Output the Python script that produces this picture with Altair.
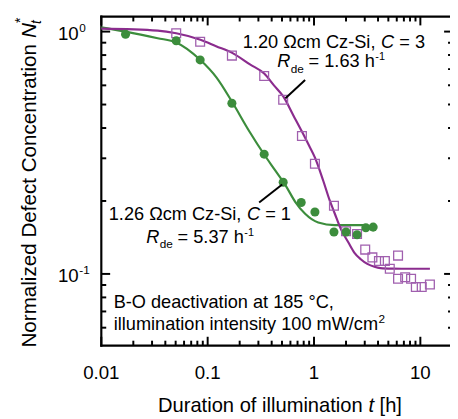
import altair as alt
import pandas as pd

# ---------------- data ----------------
green_t = [0.0169, 0.0506, 0.085, 0.169, 0.34, 0.513, 0.758, 1.02, 1.54, 2.0, 2.54, 3.07, 3.6]
green_n = [0.975, 0.917, 0.764, 0.506, 0.312, 0.239, 0.197, 0.18, 0.149, 0.149, 0.145, 0.155, 0.156]

purple_t = [0.0506, 0.085, 0.169, 0.34, 0.513, 0.77, 1.02, 1.54, 2.0, 2.54, 3.03, 3.54, 4.08,
            4.64, 5.16, 6.17, 6.17, 7.2, 8.18, 9.07, 10.3, 12.3]
purple_n = [0.984, 0.908, 0.796, 0.656, 0.523, 0.371, 0.285, 0.191, 0.15, 0.146, 0.126, 0.117, 0.113,
            0.113, 0.105, 0.119, 0.0955, 0.0968, 0.0955, 0.0883, 0.0883, 0.0905]

green_fit_t = [0.01, 0.0169, 0.0339, 0.0506, 0.0855, 0.1208, 0.17, 0.247, 0.34, 0.43, 0.54,
               0.668, 0.825, 1.096, 1.563, 2.2, 3.1]
green_fit_n = [1.041, 1.0, 0.939, 0.902, 0.763, 0.647, 0.512, 0.387, 0.311, 0.268, 0.232,
               0.198, 0.177, 0.163, 0.159, 0.159, 0.159]

purple_fit_t = [0.01, 0.0339, 0.0506, 0.0855, 0.12, 0.17, 0.25, 0.34, 0.42, 0.514, 0.64, 0.77,
                0.9, 1.021, 1.219, 1.405, 1.563, 1.803, 2.1, 2.391, 2.75, 3.172, 3.7, 4.219,
                5.5, 8.0, 12.3]
purple_fit_n = [1.028, 1.009, 0.984, 0.925, 0.87, 0.817, 0.732, 0.671, 0.6, 0.54, 0.451, 0.387,
                0.338, 0.302, 0.243, 0.201, 0.178, 0.152, 0.135, 0.1225, 0.115, 0.11, 0.107,
                0.1057, 0.1052, 0.105, 0.105]

x_major = [0.01, 0.1, 1, 10]
x_minor = [0.02, 0.03, 0.04, 0.05, 0.06, 0.07, 0.08, 0.09,
           0.2, 0.3, 0.4, 0.5, 0.6, 0.7, 0.8, 0.9,
           2, 3, 4, 5, 6, 7, 8, 9]
x_labels = ["0.01", "0.1", "1", "10"]
y_major = [1, 0.1]
y_minor = [0.06, 0.07, 0.08, 0.09, 0.2, 0.3, 0.4, 0.5, 0.6, 0.7, 0.8, 0.9]
y_label_base = ["10", "10"]
y_label_exp = ["0", "-1"]

# pointer lines (label -> curve)
ptr_x = [0.539, 0.305]
ptr_y = [0.531, 0.197]
ptr_x2 = [0.825, 0.502]
ptr_y2 = [0.631, 0.234]

# annotation anchors (data coordinates)
purple_l1 = (0.214, 0.852)
purple_l2 = (0.4523, 0.713)
green_l1 = (0.01175, 0.167)
green_l2 = (0.02653, 0.1344)
cond_l1 = (0.01307, 0.0721)
cond_l2 = (0.01307, 0.0589)

GREEN = "#3c8d3c"
PURPLE = "#8b2c8e"
SQUARE = "#a05fae"
FONT = "Liberation Sans"
W, H = 355, 335
RIGHT = 358  # frame right edge lies just outside the picture

xs = alt.Scale(type="log", domain=[0.01, 19], nice=False)
ys = alt.Scale(type="log", domain=[0.0506, 1.1535], nice=False)


def X(f):
    return alt.X(f, type="quantitative", scale=xs, axis=None)


def Y(f):
    return alt.Y(f, type="quantitative", scale=ys, axis=None)


one = pd.DataFrame({"a": [0]})
layers = []

# frame (left, top, bottom)
frame = dict(color="black", strokeWidth=2.2, strokeCap="square")
layers.append(alt.Chart(one).mark_rule(**frame).encode(x=alt.value(0), y=alt.value(0), y2=alt.value(H)))
layers.append(alt.Chart(one).mark_rule(**frame).encode(x=alt.value(0), x2=alt.value(RIGHT), y=alt.value(0)))
layers.append(alt.Chart(one).mark_rule(**frame).encode(x=alt.value(0), x2=alt.value(RIGHT), y=alt.value(H)))

# ticks (pointing inward)
dfxM = pd.DataFrame({"v": x_major})
dfxm = pd.DataFrame({"v": x_minor})
dfyM = pd.DataFrame({"v": y_major})
dfym = pd.DataFrame({"v": y_minor})
tick = dict(color="black", strokeWidth=2, opacity=1)
for df, ln in ((dfxM, 9), (dfxm, 5)):
    layers.append(alt.Chart(df).mark_rule(**tick).encode(x=X("v"), y=alt.value(H), y2=alt.value(H - ln)))
    layers.append(alt.Chart(df).mark_rule(**tick).encode(x=X("v"), y=alt.value(0), y2=alt.value(ln)))
for df, ln in ((dfyM, 9), (dfym, 5)):
    layers.append(alt.Chart(df).mark_rule(**tick).encode(y=Y("v"), x=alt.value(0), x2=alt.value(ln)))
    layers.append(alt.Chart(df).mark_rule(**tick).encode(y=Y("v"), x=alt.value(RIGHT - ln), x2=alt.value(RIGHT)))

# fitted curves
gfit = pd.DataFrame({"t": green_fit_t, "n": green_fit_n})
pfit = pd.DataFrame({"t": purple_fit_t, "n": purple_fit_n})
layers.append(alt.Chart(gfit).mark_line(color=GREEN, strokeWidth=2.2, interpolate="monotone").encode(
    x=X("t"), y=Y("n")))
layers.append(alt.Chart(pfit).mark_line(color=PURPLE, strokeWidth=2.2, interpolate="monotone").encode(
    x=X("t"), y=Y("n")))

# measured points
pdat = pd.DataFrame({"t": purple_t, "n": purple_n})
gdat = pd.DataFrame({"t": green_t, "n": green_n})
layers.append(alt.Chart(pdat).mark_point(shape="square", filled=False, color=SQUARE, size=80,
                                         strokeWidth=1.3, opacity=1).encode(x=X("t"), y=Y("n")))
layers.append(alt.Chart(gdat).mark_point(shape="circle", filled=True, color=GREEN, size=85,
                                         opacity=1).encode(x=X("t"), y=Y("n")))

# pointer lines
ptr = pd.DataFrame({"x": ptr_x, "y": ptr_y, "x2": ptr_x2, "y2": ptr_y2})
layers.append(alt.Chart(ptr).mark_rule(color="black", strokeWidth=2).encode(
    x=X("x"), y=Y("y"), x2="x2", y2="y2"))


def dtext(anchor, text, size=18.5, style="normal", dx=0, dy=0):
    df = pd.DataFrame({"x": [anchor[0]], "y": [anchor[1]], "s": [text]})
    return alt.Chart(df).mark_text(font=FONT, fontSize=size, fontStyle=style, align="left",
                                   baseline="alphabetic", dx=dx, dy=dy, color="black").encode(
        x=X("x"), y=Y("y"), text="s")


def label_block(l1, l2, res, c, rde):
    out = []
    out.append(dtext(l1, res + " \u03a9cm Cz-Si,"))
    out.append(dtext(l1, "C", style="italic", dx=140.7))
    out.append(dtext(l1, "= " + c, dx=159.3))
    out.append(dtext(l2, "R", style="italic"))
    out.append(dtext(l2, "de", size=12, dx=13.6, dy=5.5))
    out.append(dtext(l2, "= " + rde + " h", dx=31.8))
    out.append(dtext(l2, "-1", size=11, dx=99.7, dy=-7))
    return out


layers += label_block(purple_l1, purple_l2, "1.20", "3", "1.63")
layers += label_block(green_l1, green_l2, "1.26", "1", "5.37")
layers.append(dtext(cond_l1, "B-O deactivation at 185 \u00b0C,"))
layers.append(dtext(cond_l2, "illumination intensity 100 mW/cm"))
layers.append(dtext(cond_l2, "2", size=12, dx=269.6, dy=-6.5))

# axis tick labels
xl = pd.DataFrame({"v": x_major, "s": x_labels})
layers.append(alt.Chart(xl).mark_text(font=FONT, fontSize=19, align="center", baseline="alphabetic",
                                      color="black").encode(x=X("v"), y=alt.value(368.7), text="s"))
yl = pd.DataFrame({"v": y_major, "b": y_label_base, "e": y_label_exp})
layers.append(alt.Chart(yl).mark_text(font=FONT, fontSize=19, align="right", baseline="alphabetic",
                                      dy=8.3, color="black").encode(x=alt.value(-23), y=Y("v"), text="b"))
layers.append(alt.Chart(yl).mark_text(font=FONT, fontSize=12, align="left", baseline="alphabetic",
                                      dy=0, color="black").encode(x=alt.value(-22.5), y=Y("v"), text="e"))


# axis titles
def ptext(x, y, text, size, style="normal", dx=0, dy=0, angle=0):
    df = pd.DataFrame({"s": [text]})
    return alt.Chart(df).mark_text(font=FONT, fontSize=size, fontStyle=style, align="left",
                                   baseline="alphabetic", dx=dx, dy=dy, angle=angle,
                                   color="black").encode(x=alt.value(x), y=alt.value(y), text="s")


layers.append(ptext(57.7, 403, "Duration of illumination", 20.5))
layers.append(ptext(57.7, 403, "t", 20.5, style="italic", dx=214.2))
layers.append(ptext(57.7, 403, "[h]", 20.5, dx=225.6))

layers.append(ptext(-66, 337, "Normalized Defect Concentration", 21, angle=270))
layers.append(ptext(-66, 337, "N", 21, style="italic", dx=315.1, angle=270))
layers.append(ptext(-66, 337, "t", 14, style="italic", dx=329.5, dy=5, angle=270))
layers.append(ptext(-66, 337, "*", 14, dx=330.5, dy=-12, angle=270))

chart = alt.layer(*layers).properties(
    width=W, height=H,
    padding={"left": 95, "top": 5, "right": 0, "bottom": 71},
    autosize=alt.AutoSizeParams(type="none"),
).configure_view(stroke=None)

chart.save("out.html", embed_options={"renderer": "svg", "actions": False})
